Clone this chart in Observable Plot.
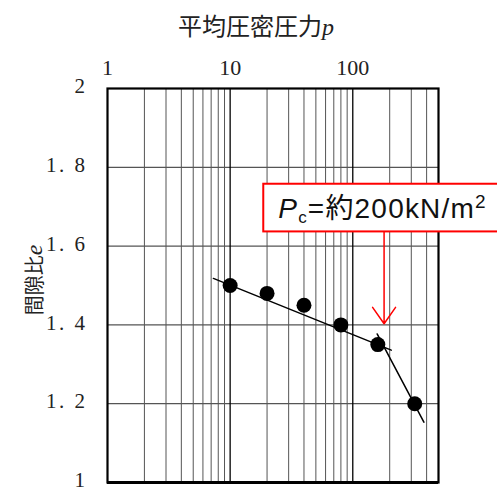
<!DOCTYPE html>
<html><head><meta charset="utf-8">
<script src="https://cdn.jsdelivr.net/npm/d3@7"></script>
<script src="https://cdn.jsdelivr.net/npm/@observablehq/plot@0.6"></script>
<style>
body{margin:0;background:#fff;}
#wrap{position:relative;width:497px;height:491px;overflow:hidden;}
#title{position:absolute;top:7px;left:0;width:512px;text-align:center;font:24px "Noto Sans CJK JP",sans-serif;color:#222;}
#title i,#ylab i{font-family:"Liberation Serif",serif;font-size:24px;}
#ylab{position:absolute;left:33px;top:280px;transform:translate(-50%,-50%) rotate(-90deg);white-space:nowrap;font:20px "Noto Sans CJK JP",sans-serif;color:#222;}
</style></head>
<body><div id="wrap"><div id="title">平均圧密圧力<i>p</i></div><div id="ylab">間隙比<i>e</i></div></div>
<script>
// data
const pressure = [10, 20, 40, 80, 160, 320];
const voidRatio = [1.50, 1.48, 1.45, 1.40, 1.35, 1.20];
const fit1P = [7.3, 206];
const fit1E = [1.518, 1.336];
const fit2P = [158, 380];
const fit2E = [1.377, 1.153];
const xTicks = [1, 10, 100];
const xMinor = [2,3,4,5,6,7,8,9,20,30,40,50,60,70,80,90,200,300,400,500];
const xMajor = [10, 100];
const yTicks = [1, 1.2, 1.4, 1.6, 1.8, 2];
const yTickLabels = ["1", "1. 2", "1. 4", "1. 6", "1. 8", "2"];
const arrowP = [180];
const arrowE = [1.636, 1.403];
const boxP = [18.8, 2000];
const boxE = [1.636, 1.757];

const pts = pressure.map((p, i) => ({p, e: voidRatio[i]}));
const line1 = fit1P.map((p, i) => ({p, e: fit1E[i]}));
const line2 = fit2P.map((p, i) => ({p, e: fit2E[i]}));

const plot = Plot.plot({
  width: 497, height: 491,
  marginLeft: 107, marginRight: 59, marginTop: 88, marginBottom: 9,
  style: {fontFamily: "'Liberation Serif', serif", fontSize: "20px", color: "#222", background: "transparent", overflow: "visible"},
  x: {type: "log", domain: [1, 500], axis: null},
  y: {domain: [1, 2], axis: null},
  marks: [
    Plot.ruleX(xMinor, {stroke: "#555", strokeWidth: 1}),
    Plot.ruleY(yTicks.slice(1, -1), {stroke: "#555", strokeWidth: 1.2}),
    Plot.ruleX(xMajor, {stroke: "#000", strokeWidth: 1.3}),
    Plot.frame({stroke: "#000", strokeWidth: 2.2}),
    Plot.ruleY([1], {stroke: "#000", strokeWidth: 3}),
    Plot.axisX(xTicks, {anchor: "top", tickSize: 0, tickPadding: 14, tickFormat: d => String(d), fontSize: 22, label: null}),
    Plot.axisY(yTicks, {anchor: "left", tickSize: 0, tickPadding: 20, tickFormat: (d, i) => yTickLabels[i], fontSize: 21, label: null, dy: -2}),
    Plot.line(line1, {x: "p", y: "e", stroke: "#000", strokeWidth: 1.5}),
    Plot.line(line2, {x: "p", y: "e", stroke: "#000", strokeWidth: 1.5}),
    Plot.dot(pts, {x: "p", y: "e", r: 7.5, fill: "#000", stroke: "none"}),
    Plot.rect([{}], {x1: () => boxP[0], x2: () => boxP[1], y1: () => boxE[0], y2: () => boxE[1], fill: "#fff", stroke: "#f00", strokeWidth: 2}),
    Plot.arrow([{}], {x1: () => arrowP[0], x2: () => arrowP[0], y1: () => arrowE[0], y2: () => arrowE[1], stroke: "#f00", strokeWidth: 1.5, headLength: 20, headAngle: 70})
  ]
});
document.getElementById("wrap").prepend(plot);
plot.style.position = "absolute"; plot.style.left = "0"; plot.style.top = "0";
d3.select(plot).selectAll("g[aria-label='y-axis tick label'] text").attr("letter-spacing", 2.5);

// annotation label with subscript / superscript
const sx = plot.scale("x"), sy = plot.scale("y");
const t = d3.select(plot).append("text")
  .attr("text-anchor", "start")
  .attr("x", sx.apply(boxP[0]) + 15)
  .attr("y", (sy.apply(boxE[0]) + sy.apply(boxE[1])) / 2 + 10)
  .attr("font-family", "'Liberation Sans', 'Noto Sans CJK JP', sans-serif")
  .attr("letter-spacing", 1.2)
  .attr("font-size", 28).attr("fill", "#111");
t.append("tspan").attr("font-style", "italic").text("P");
t.append("tspan").attr("font-size", 17).attr("dy", 5).text("c");
t.append("tspan").attr("dy", -5).text("=約200kN/m");
t.append("tspan").attr("font-size", 19).attr("dy", -10).text("2");
</script></body></html>
